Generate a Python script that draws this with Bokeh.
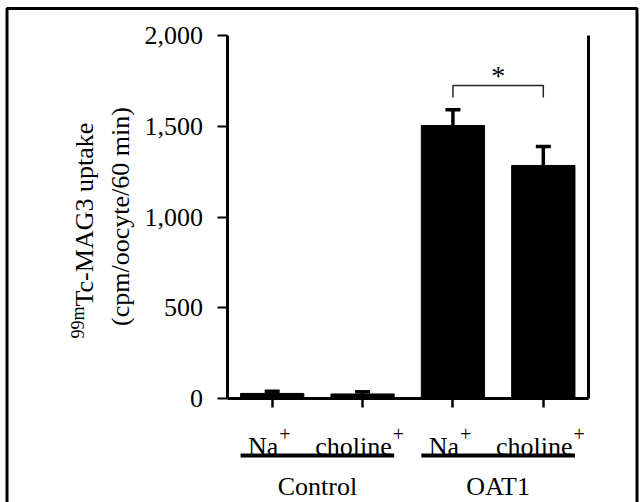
import math
from bokeh.plotting import figure
from bokeh.models import (ColumnDataSource, Whisker, TeeHead, FixedTicker,
                          NumeralTickFormatter, LinearAxis, Range1d)
from bokeh.core.properties import value
from bokeh.embed import file_html
from bokeh.resources import INLINE

# ---------------- data ----------------
groups = ["Control", "Control", "OAT1", "OAT1"]
conditions = ["Na", "choline", "Na", "choline"]
uptake = [28, 25, 1504, 1284]
sem = [12, 12, 87, 104]
y_ticks = [0, 500, 1000, 1500, 2000]
sig_pair = [2, 3]
sig_text = "*"
y_label_sup = "99m"
y_label_1 = "Tc-MAG3 uptake"
y_label_2 = "(cpm/oocyte/60 min)"

FONT = "Liberation Serif"
n = len(uptake)
x_pos = [i + 0.5 for i in range(n)]

# ---------------- geometry (page pixels -> data) ----------------
W, H = 640, 502
OX, OY = 0, 0                     # page offset of the canvas
AX_LEFT, AX_RIGHT = 226.5, 588.0  # page x of x=0 and x=n
AX_BOTTOM, AX_TOP = 398.0, 35.0   # page y of y=0 and y=2000
YMAX = 2000
sx = (AX_RIGHT - AX_LEFT) / n
sy = (AX_BOTTOM - AX_TOP) / YMAX

def px2x(px):
    return (px - AX_LEFT) / sx

def py2y(py):
    return (AX_BOTTOM - py) / sy

x_range = Range1d(px2x(OX), px2x(OX + W))
y_range = Range1d(py2y(OY + H), py2y(OY))

p = figure(width=W, height=H, x_range=x_range, y_range=y_range,
           output_backend="svg", toolbar_location=None,
           x_axis_location=None, y_axis_location=None,
           min_border=0, min_border_left=0, min_border_right=0,
           min_border_top=0, min_border_bottom=0)
p.grid.visible = False
p.outline_line_color = None
p.background_fill_color = "white"
p.border_fill_color = "white"

# ---------------- axes ----------------
ya = LinearAxis(fixed_location=0, bounds=(0, YMAX), ticker=FixedTicker(ticks=y_ticks),
                formatter=NumeralTickFormatter(format="0,0"),
                major_label_text_font=FONT, major_label_text_font_size="26px",
                major_label_text_color="black", major_label_standoff=14,
                major_tick_out=10, major_tick_in=0, minor_tick_line_color=None,
                axis_line_width=3, major_tick_line_width=2, axis_line_color="black")
p.add_layout(ya, "left")

xa = LinearAxis(fixed_location=0, bounds=(0, n), ticker=FixedTicker(ticks=x_pos),
                major_label_text_font_size="0px", major_tick_out=9, major_tick_in=0,
                minor_tick_line_color=None, axis_line_width=3,
                major_tick_line_width=2.5, axis_line_color="black")
xa.major_label_overrides = {x: "" for x in x_pos}
p.add_layout(xa, "below")

ra = LinearAxis(fixed_location=n, bounds=(0, YMAX), ticker=FixedTicker(ticks=[]),
                major_label_text_font_size="0px", axis_line_width=3,
                axis_line_color="black", major_tick_line_color=None,
                minor_tick_line_color=None)
p.add_layout(ra, "right")

# ---------------- bars + error bars ----------------
src = ColumnDataSource(dict(x=x_pos, top=uptake,
                            upper=[u + s for u, s in zip(uptake, sem)]))
p.vbar(x="x", top="top", width=0.7, bottom=0, source=src,
       fill_color="black", line_color="black")
p.add_layout(Whisker(base="x", upper="upper", lower="top", source=src,
                     dimension="height", line_width=3.5, line_color="black",
                     upper_head=TeeHead(size=15, line_width=3.5, line_color="black"),
                     lower_head=None))

# ---------------- significance bracket ----------------
a, b = sig_pair
p.line(x=[x_pos[a], x_pos[a], x_pos[b], x_pos[b]],
       y=[py2y(97), py2y(85), py2y(85), py2y(97)],
       line_width=1.5, line_color="#222222")
p.text(x=[(x_pos[a] + x_pos[b]) / 2], y=[py2y(59)], text=[sig_text],
       text_font=value(FONT), text_font_size="28px", text_align="center",
       text_baseline="top", text_color="black")

# ---------------- category labels (with superscript +) ----------------
adv = {"N": .722, "a": .444, "c": .444, "h": .5, "o": .5, "l": .278,
       "i": .278, "n": .5, "e": .444}
F, FS = 26, 20
lab_x, lab_off, lab_t, sup_x, sup_off = [], [], [], [], []
for x, cond in zip(x_pos, conditions):
    wm = sum(adv[c] for c in cond) * F
    wp = 0.564 * FS
    tot = wm + wp + 1
    lab_x.append(x); lab_off.append(-tot / 2 - 3); lab_t.append(cond)
    sup_x.append(x); sup_off.append(-tot / 2 - 3 + wm + 1)
p.text(x=lab_x, y=[py2y(446)] * n, x_offset=lab_off, text=lab_t,
       text_font=value(FONT), text_font_size=f"{F}px", text_align="left",
       text_baseline="alphabetic", text_color="black")
p.text(x=sup_x, y=[py2y(433)] * n, x_offset=sup_off, text=["+"] * n,
       text_font=value(FONT), text_font_size=f"{FS}px", text_align="left",
       text_baseline="alphabetic", text_color="black")

# ---------------- group underlines + names ----------------
gnames = []
for g in groups:
    if g not in gnames:
        gnames.append(g)
gx0, gx1, gc = [], [], []
for g in gnames:
    idx = [i for i, gg in enumerate(groups) if gg == g]
    gx0.append(x_pos[idx[0]] - 0.35)
    gx1.append(x_pos[idx[-1]] + 0.35)
    gc.append((x_pos[idx[0]] + x_pos[idx[-1]]) / 2)
p.segment(x0=gx0, x1=gx1, y0=[py2y(455)] * len(gnames), y1=[py2y(455)] * len(gnames),
          line_width=4, line_color="black")
p.text(x=gc, y=[py2y(486)] * len(gnames), text=gnames, text_font=value(FONT),
       text_font_size="26px", text_align="center", text_baseline="alphabetic",
       text_color="black")

# ---------------- y axis title (rotated, with superscript) ----------------
p.text(x=[px2x(84)], y=[py2y(306)], text=[y_label_1], angle=math.pi / 2,
       text_font=value(FONT), text_font_size="26px", text_align="left",
       text_baseline="alphabetic", text_color="black")
p.text(x=[px2x(77)], y=[py2y(306)], text=[y_label_sup], angle=math.pi / 2,
       text_font=value(FONT), text_font_size="18px", text_align="right",
       text_baseline="alphabetic", text_color="black")
p.text(x=[px2x(120)], y=[py2y(216)], text=[y_label_2], angle=math.pi / 2,
       text_font=value(FONT), text_font_size="26px", text_align="center",
       text_baseline="alphabetic", text_color="black")

# ---------------- outer frame (top, left, right) ----------------
p.line(x=[px2x(6.5), px2x(6.5), px2x(636.5), px2x(636.5)],
       y=[py2y(OY + H + 5), py2y(8), py2y(8), py2y(OY + H + 5)],
       line_width=3, line_color="black")

open("out.html", "w").write(file_html(p, INLINE))
